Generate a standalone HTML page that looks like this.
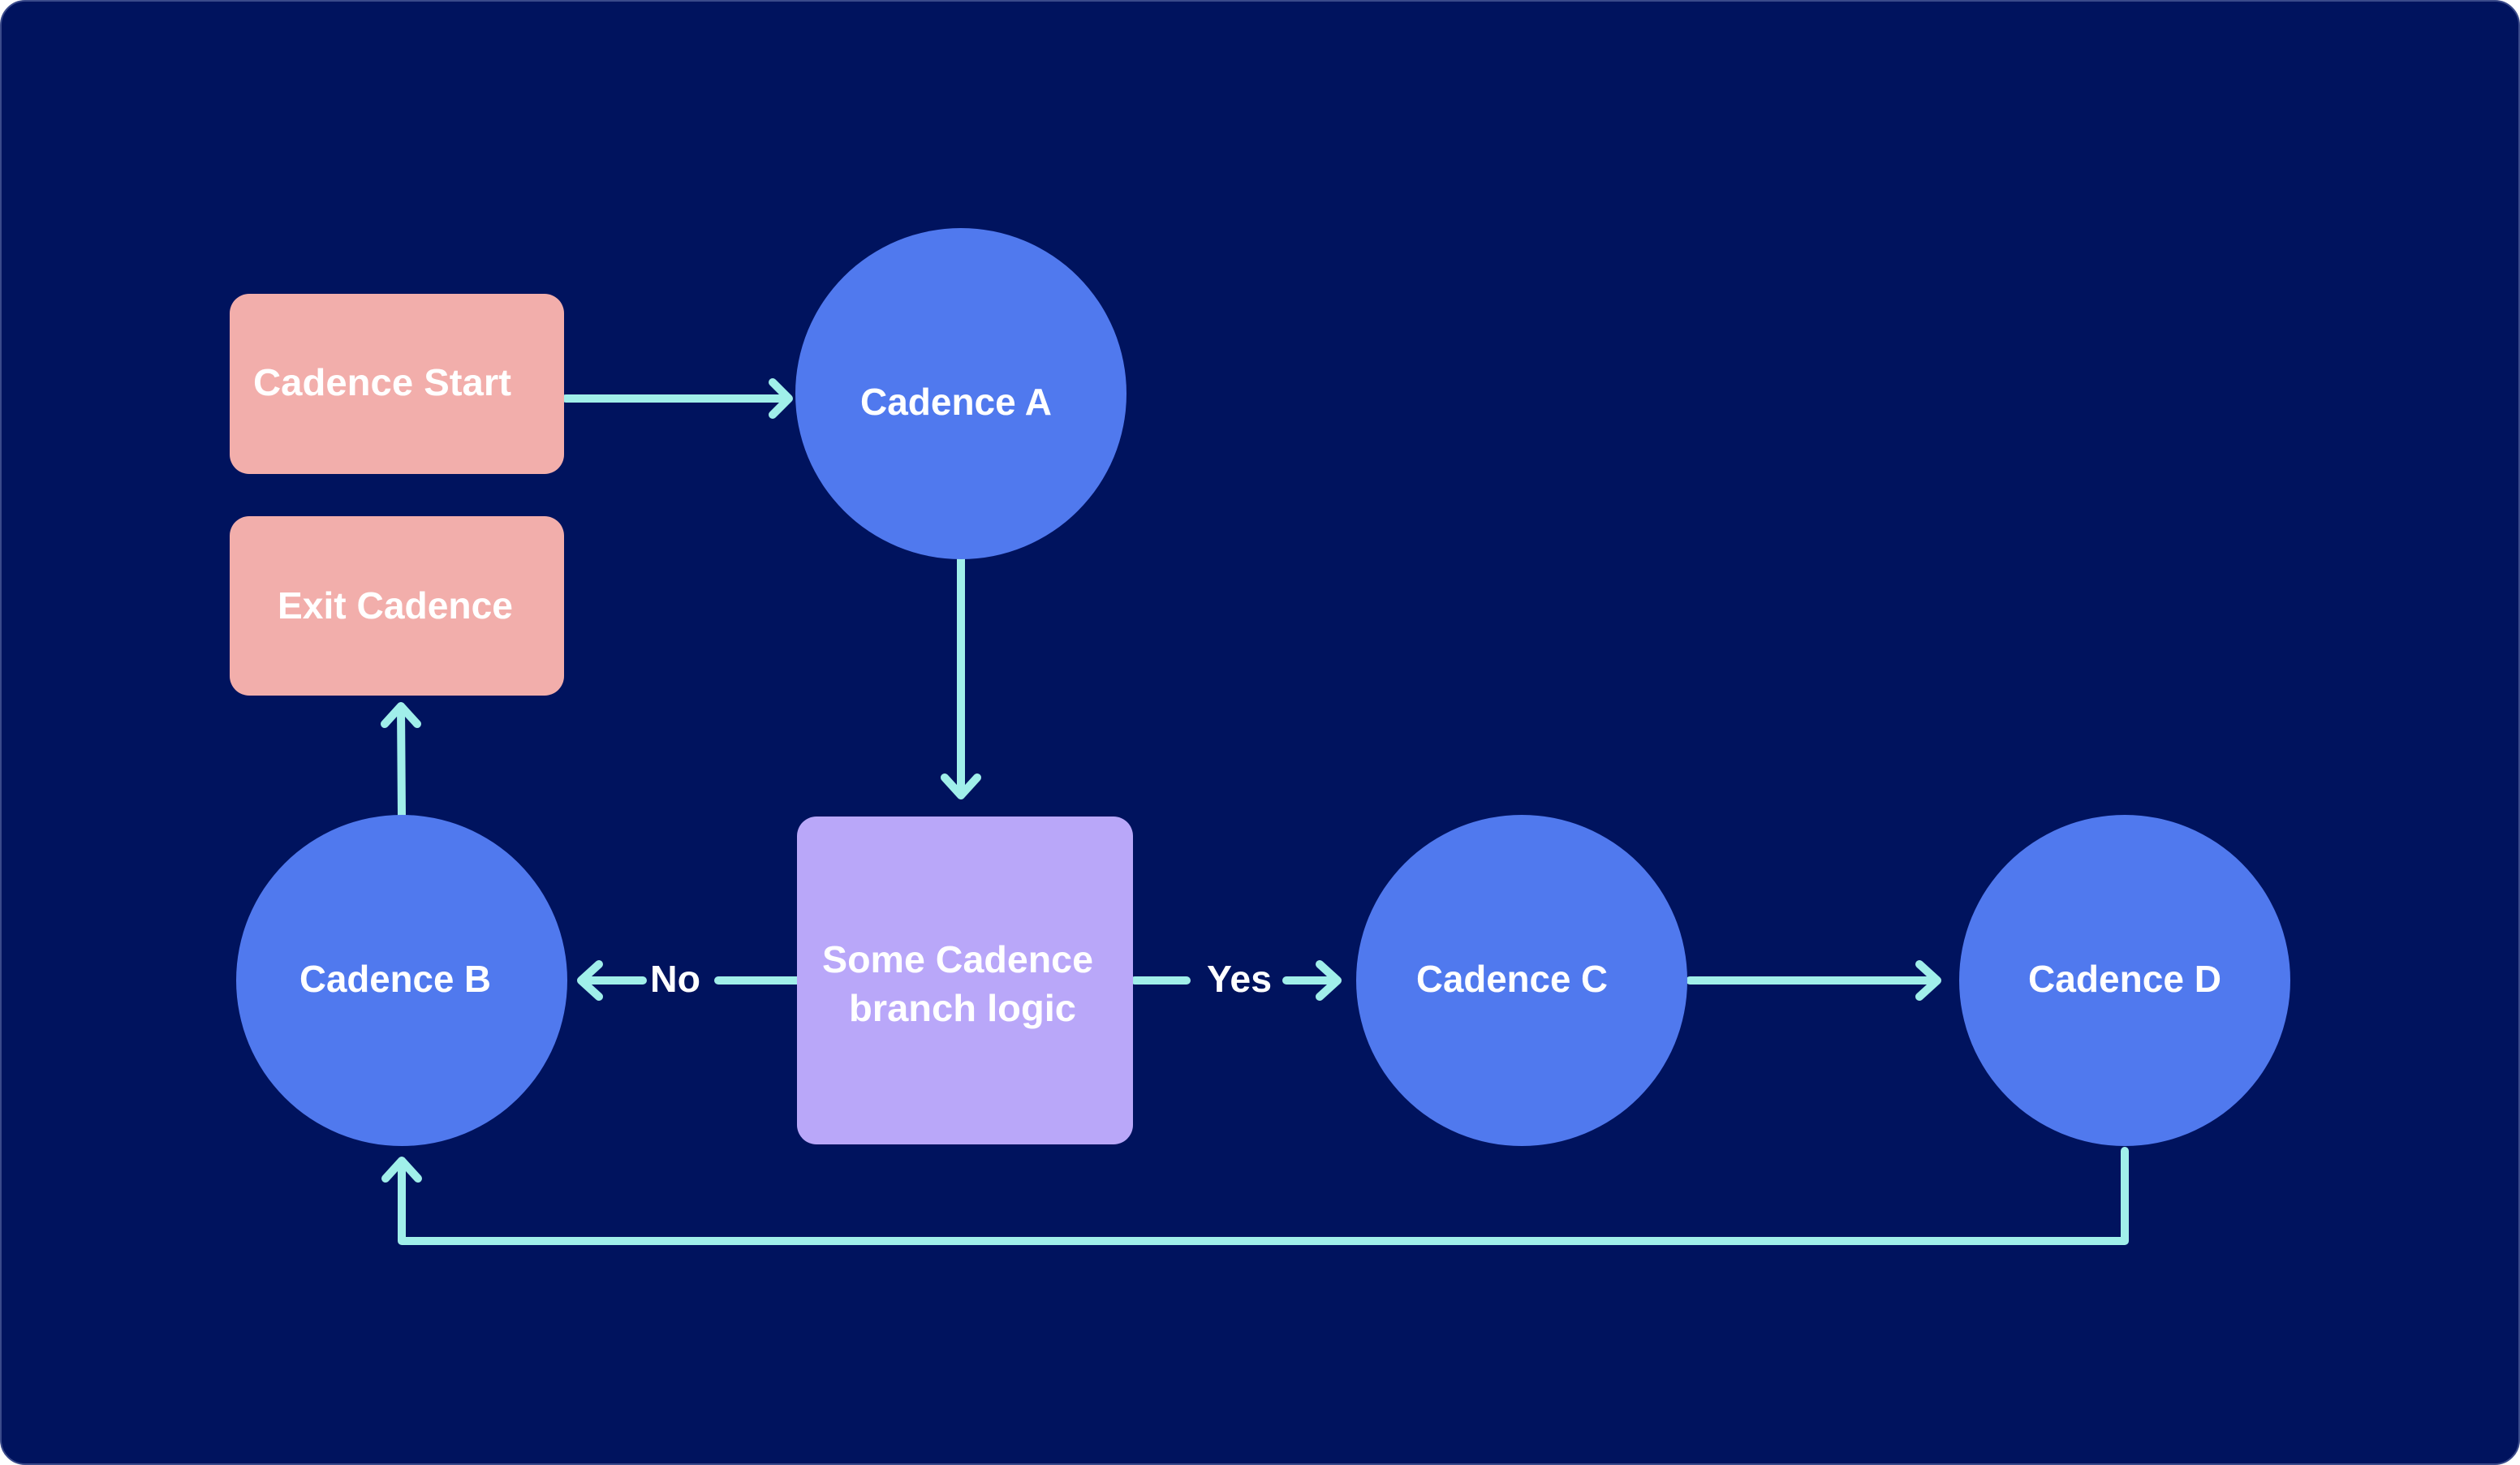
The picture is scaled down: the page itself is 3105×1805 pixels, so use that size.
<!DOCTYPE html>
<html><head><style>
html,body{margin:0;padding:0;background:#fff;}
svg{display:block;}
text{font-family:"Liberation Sans",sans-serif;font-weight:bold;fill:#fff;font-size:46px;text-anchor:middle;dominant-baseline:central;}
</style></head><body>
<svg width="3105" height="1805" viewBox="0 0 3105 1805" xmlns="http://www.w3.org/2000/svg">
<rect x="1" y="1" width="3103" height="1803" rx="30" fill="#00135e" stroke="#3a4a8a" stroke-width="2"/>
<g fill="none" stroke="#a0efea" stroke-width="10" stroke-linecap="round" stroke-linejoin="round">
<path d="M697 491 L970 491 M952 471 L972 491 L952 511"/>
<path d="M1184 688 L1184 978 M1164 958 L1184 980 L1204 958"/>
<path d="M985 1208 L885 1208 M792 1208 L718 1208 M738 1188 L716 1208 L738 1228"/>
<path d="M1398 1208 L1462 1208 M1585 1208 L1646 1208 M1626 1188 L1648 1208 L1626 1228"/>
<path d="M2082 1208 L2385 1208 M2365 1188 L2387 1208 L2365 1228"/>
<path d="M2618 1418 L2618 1529 L495 1529 L495 1432 M475 1452 L495 1430 L515 1452"/>
<path d="M495 1006 L494 872 M474 892 L494 870 L514 892"/>
</g>
<rect x="283" y="362" width="412" height="222" rx="24" fill="#f2aeab"/>
<rect x="283" y="636" width="412" height="221" rx="24" fill="#f2aeab"/>
<rect x="982" y="1006" width="414" height="404" rx="24" fill="#b9a7f9"/>
<circle cx="1184" cy="485" r="204" fill="#5079ee"/>
<circle cx="495" cy="1208" r="204" fill="#5079ee"/>
<circle cx="1875" cy="1208" r="204" fill="#5079ee"/>
<circle cx="2618" cy="1208" r="204" fill="#5079ee"/>
<text x="471" y="471" textLength="318" lengthAdjust="spacingAndGlyphs">Cadence Start</text>
<text x="487" y="746" textLength="290" lengthAdjust="spacingAndGlyphs">Exit Cadence</text>
<text x="1178" y="495" textLength="236" lengthAdjust="spacingAndGlyphs">Cadence A</text>
<text x="487" y="1206" textLength="236" lengthAdjust="spacingAndGlyphs">Cadence B</text>
<text x="1863" y="1206" textLength="236" lengthAdjust="spacingAndGlyphs">Cadence C</text>
<text x="2618" y="1206" textLength="238" lengthAdjust="spacingAndGlyphs">Cadence D</text>
<text x="1180" y="1182" textLength="334" lengthAdjust="spacingAndGlyphs">Some Cadence</text>
<text x="1186" y="1242" textLength="280" lengthAdjust="spacingAndGlyphs">branch logic</text>
<text x="832" y="1206" textLength="62" lengthAdjust="spacingAndGlyphs">No</text>
<text x="1527" y="1206" textLength="80" lengthAdjust="spacingAndGlyphs">Yes</text>
</svg>
</body></html>
